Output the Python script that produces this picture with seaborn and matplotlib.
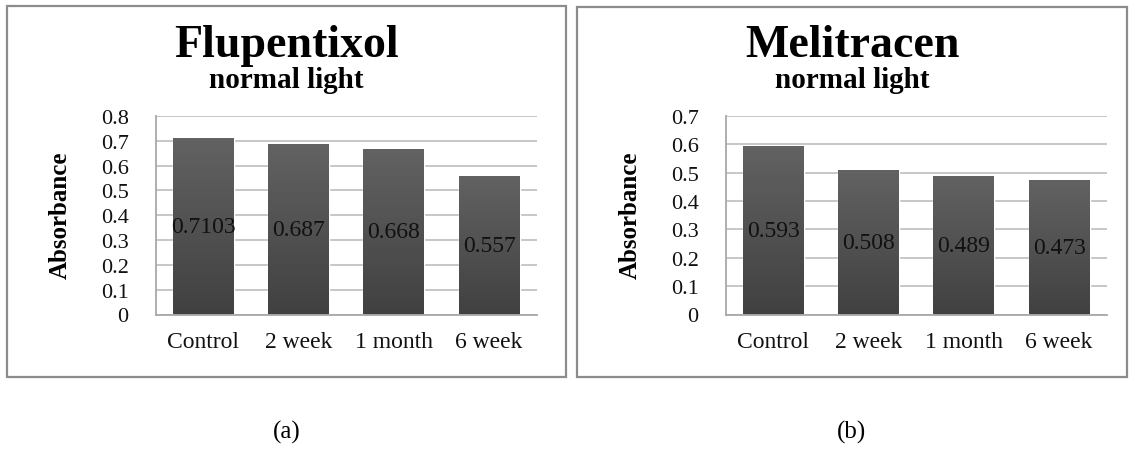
import numpy as np
import pandas as pd
import matplotlib
matplotlib.use('Agg')
import matplotlib.pyplot as plt
from matplotlib.patches import Rectangle
from matplotlib.ticker import FuncFormatter, MultipleLocator
from matplotlib.colors import LinearSegmentedColormap
import seaborn as sns

# data
categories = ['Control', '2 week', '1 month', '6 week']
flupentixol = [0.7103, 0.687, 0.668, 0.557]
melitracen = [0.593, 0.508, 0.489, 0.473]
drugs = ['Flupentixol', 'Melitracen']
subtitle = 'normal light'
y_max = [0.8, 0.7]
panel_tags = ['(a)', '(b)']

sns.set_style('white')
plt.rcParams['font.family'] = ['Liberation Serif', 'DejaVu Serif']
plt.rcParams['text.color'] = 'black'
plt.rcParams['axes.labelcolor'] = 'black'

W, H = 1130, 452
fig = plt.figure(figsize=(W / 100, H / 100), dpi=100)

# pixel layout of each panel: border box, axes box
panels = [
    dict(box=(7, 7, 566, 378), ax=(155.7, 117, 536.7, 315.5)),
    dict(box=(577, 8, 1127, 378), ax=(725.7, 117, 1106.7, 315.5)),
]

grad = LinearSegmentedColormap.from_list('bar', ['#414141', '#626262'])
fmt = FuncFormatter(lambda v, _: '0' if abs(v) < 1e-9 else f'{v:.1f}')

for i, (name, vals) in enumerate(zip(drugs, [flupentixol, melitracen])):
    p = panels[i]
    bx0, by0, bx1, by1 = p['box']
    fig.add_artist(Rectangle((bx0 / W, 1 - by1 / H), (bx1 - bx0) / W, (by1 - by0) / H,
                             transform=fig.transFigure, fill=False,
                             ec='#8c8c8c', lw=1.6))
    ax0, ay0, ax1, ay1 = p['ax']
    ax = fig.add_axes([ax0 / W, 1 - ay1 / H, (ax1 - ax0) / W, (ay1 - ay0) / H])

    df = pd.DataFrame({'period': categories, 'absorbance': vals})
    sns.barplot(data=df, x='period', y='absorbance', color='#555555',
                width=0.64, saturation=1, ax=ax, zorder=2)

    # vertical shading on each bar
    for bar in ax.patches:
        x, y = bar.get_x(), bar.get_y()
        w, h = bar.get_width(), bar.get_height()
        im = ax.imshow(np.linspace(1, 0, 50).reshape(-1, 1), cmap=grad,
                       extent=(x, x + w, y, y + h), aspect='auto', zorder=3)
        im.set_clip_path(bar)

    ax.set_xlim(-0.5, 3.5)
    ax.set_ylim(0, y_max[i])
    ax.yaxis.set_major_locator(MultipleLocator(0.1))
    ax.yaxis.set_major_formatter(fmt)

    texts = ax.bar_label(ax.containers[0], fmt='%g', label_type='center',
                         fontsize=17, color='#111111')
    for t in texts:
        t.set_zorder(5)

    ax.yaxis.grid(True, color='#c3c3c3', lw=1.3)
    ax.xaxis.grid(False)
    ax.set_axisbelow(True)
    for s in ['top', 'right']:
        ax.spines[s].set_visible(False)
    for s in ['left', 'bottom']:
        ax.spines[s].set_color('#a8a8a8')
        ax.spines[s].set_linewidth(1.3)
    ax.tick_params(axis='y', length=0, pad=19.5, labelsize=16, labelcolor='#111111')
    ax.tick_params(axis='x', length=0, pad=12, labelsize=17, labelcolor='#111111')

    ax.set_xlabel('')
    ax.set_ylabel('Absorbance', fontsize=18, fontweight='bold')
    ax.yaxis.set_label_coords(-0.251, 0.506)
    ax.yaxis.label.set_verticalalignment('center')

    cx = (bx0 + bx1) / 2 / W
    fig.text(cx, 1 - 57.3 / H, name, ha='center', va='baseline',
             fontsize=33, fontweight='bold')
    fig.text(cx, 1 - 88.3 / H, subtitle, ha='center', va='baseline',
             fontsize=21, fontweight='bold')
    fig.text(cx, 1 - 432 / H, panel_tags[i], ha='center', va='center',
             fontsize=18)

fig.savefig('out.png', dpi=100, facecolor='white')
